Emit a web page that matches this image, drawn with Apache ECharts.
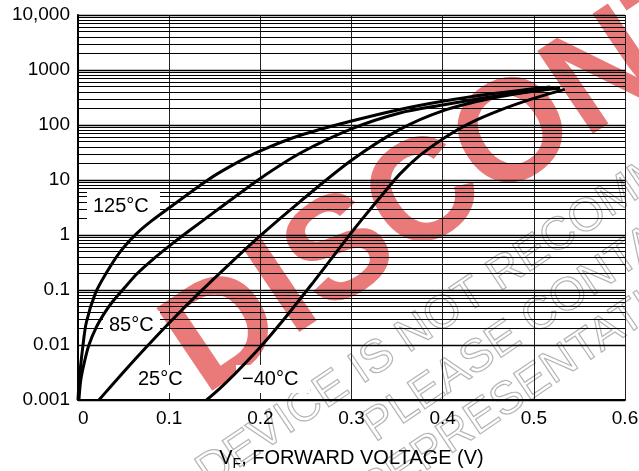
<!DOCTYPE html>
<html><head><meta charset="utf-8">
<script src="https://cdn.jsdelivr.net/npm/echarts@6/dist/echarts.min.js"></script>
<style>html,body{margin:0;padding:0;background:#fff}#c{width:639px;height:471px}</style>
</head><body><div id="c"></div>
<script>
// ---- data ----
const curveNames = ['125°C', '85°C', '25°C', '−40°C'];
const vf125 = [0, 0.001, 0.003, 0.005, 0.009, 0.019, 0.031, 0.046, 0.064, 0.081, 0.101, 0.142, 0.167, 0.2, 0.244, 0.3, 0.353, 0.4, 0.452, 0.499, 0.518];
const if125 = [0.001, 0.0019, 0.00437, 0.0085, 0.0251, 0.087, 0.204, 0.49, 1.05, 1.82, 3.2, 9.93, 17.7, 33.7, 65, 118, 192, 271, 366, 454, 493];
const vf85 = [0.001, 0.003, 0.007, 0.012, 0.02, 0.029, 0.038, 0.051, 0.065, 0.081, 0.101, 0.123, 0.142, 0.167, 0.2, 0.244, 0.3, 0.353, 0.4, 0.452, 0.499, 0.523];
const if85 = [0.001, 0.00229, 0.0049, 0.01, 0.0209, 0.038, 0.0617, 0.11, 0.2, 0.347, 0.646, 1.23, 2.11, 4.27, 10.7, 30.9, 85, 165, 231, 323, 415, 471];
const vf25 = [0.023, 0.035, 0.052, 0.074, 0.1, 0.134, 0.167, 0.2, 0.244, 0.3, 0.353, 0.4, 0.452, 0.499, 0.529];
const if25 = [0.001, 0.00169, 0.00352, 0.00883, 0.0252, 0.0923, 0.306, 0.973, 4.1, 22.8, 83.2, 181, 303, 411, 466];
const vfm40 = [0.141, 0.156, 0.172, 0.2, 0.227, 0.258, 0.282, 0.3, 0.313, 0.331, 0.353, 0.375, 0.4, 0.43, 0.463, 0.499, 0.534];
const ifm40 = [0.001, 0.00165, 0.00297, 0.00918, 0.0309, 0.138, 0.454, 1.11, 2.07, 4.75, 12.8, 28, 55.8, 108, 186, 301, 444];

const xTickLabels = ['0', '0.1', '0.2', '0.3', '0.4', '0.5', '0.6'];
const yTickValues = [0.001, 0.01, 0.1, 1, 10, 100, 1000, 10000];
const yTickLabels = ['0.001', '0.01', '0.1', '1', '10', '100', '1000', '10,000'];
const minorMantissas = [2, 3, 4, 5, 6, 7, 8, 9];
const minorDecades = [0.001, 0.01, 0.1, 1, 10, 100, 1000];

// ---- build ----
function pairs(xs, ys) { return xs.map((x, i) => [x, ys[i]]); }
const curves = [pairs(vf125, if125), pairs(vf85, if85), pairs(vf25, if25), pairs(vfm40, ifm40)];

const minorLines = [];
minorDecades.forEach(d => minorMantissas.forEach(m => minorLines.push({ yAxis: +(m * d).toPrecision(3) })));

const chart = echarts.init(document.getElementById('c'), null, { renderer: 'canvas' });
const FONT = 'Liberation Sans, Arial, Helvetica, sans-serif';
const deg = Math.PI / 180;
const wmAngle = 34 * deg;
const wmSmall = { fill: 'none', stroke: '#b5b5b5', lineWidth: 1.2, font: '46px ' + FONT, verticalAlign: 'middle', align: 'left' };

const option = {
  animation: false,
  backgroundColor: '#fff',
  grid: { left: 78, right: 14, top: 15, bottom: 71, containLabel: false, outerBoundsMode: 'none' },
  xAxis: {
    type: 'value', min: 0, max: 0.6, interval: 0.1,
    axisLine: { show: true, onZero: false, lineStyle: { color: '#000', width: 2 } },
    axisTick: { show: false },
    splitLine: { show: true, lineStyle: { color: '#222', width: 1 } },
    axisLabel: {
      color: '#000', fontSize: 19, fontFamily: FONT, margin: 9, alignMinLabel: 'left',
      formatter: (v) => xTickLabels[Math.round(v * 10)]
    },
    name: '{m|V}{s|F}{m|, FORWARD VOLTAGE (V)}',
    nameLocation: 'middle', nameGap: 45,
    nameTextStyle: {
      color: '#000', fontFamily: FONT, fontSize: 20,
      rich: {
        m: { fontSize: 20, fontFamily: FONT, color: '#000' },
        s: { fontSize: 14, fontFamily: FONT, color: '#000', padding: [12, 0, 0, 0] }
      }
    }
  },
  yAxis: {
    type: 'log', logBase: 10, min: 0.001, max: 10000, splitNumber: 7,
    axisLine: { show: true, lineStyle: { color: '#000', width: 2 } },
    axisTick: { show: false },
    splitLine: { show: true, lineStyle: { color: '#000', width: 1.3 } },
    axisLabel: {
      color: '#000', fontSize: 19, fontFamily: FONT, margin: 8,
      formatter: (v) => {
        const k = yTickValues.findIndex(t => Math.abs(Math.log10(t) - Math.log10(v)) < 1e-6);
        return k >= 0 ? yTickLabels[k] : '';
      }
    },
    name: '{m|I}{s|F}{m|, FORWARD CURRENT (mA)}',
    nameLocation: 'middle', nameGap: 54,
    nameTextStyle: {
      color: '#000', fontFamily: FONT, fontSize: 20,
      rich: {
        m: { fontSize: 20, fontFamily: FONT, color: '#000' },
        s: { fontSize: 14, fontFamily: FONT, color: '#000', padding: [12, 0, 0, 0] }
      }
    }
  },
  graphic: [
    // watermark (behind grid)
    { type: 'text', z: -10, x: 182, y: 363, rotation: wmAngle, silent: true,
      style: { text: 'DISCONTINUED', fill: '#ea7a7a', font: 'bold 145px ' + FONT, verticalAlign: 'middle', align: 'left' } },
    { type: 'text', z: -9, x: 202, y: 477, rotation: wmAngle, silent: true,
      style: Object.assign({ text: 'DEVICE IS NOT RECOMMENDED FOR NEW DESIGN' }, wmSmall) },
    { type: 'text', z: -9, x: 368, y: 432, rotation: wmAngle, silent: true,
      style: Object.assign({ text: 'PLEASE CONTACT YOUR ON SEMICONDUCTOR' }, wmSmall) },
    { type: 'text', z: -9, x: 364, y: 497, rotation: wmAngle, silent: true,
      style: Object.assign({ text: 'REPRESENTATIVE FOR INFORMATION' }, wmSmall) },
    // curve labels with white boxes
    { type: 'rect', z: 40, shape: { x: 87, y: 192, width: 73, height: 27 }, style: { fill: '#fff' } },
    { type: 'text', z: 41, x: 93, y: 206, style: { text: curveNames[0], font: '20px ' + FONT, fill: '#000', verticalAlign: 'middle' } },
    { type: 'rect', z: 40, shape: { x: 103, y: 311, width: 57, height: 27 }, style: { fill: '#fff' } },
    { type: 'text', z: 41, x: 109, y: 325, style: { text: curveNames[1], font: '20px ' + FONT, fill: '#000', verticalAlign: 'middle' } },
    { type: 'rect', z: 40, shape: { x: 130, y: 365, width: 60, height: 28 }, style: { fill: '#fff' } },
    { type: 'text', z: 41, x: 138, y: 379, style: { text: curveNames[2], font: '20px ' + FONT, fill: '#000', verticalAlign: 'middle' } },
    { type: 'rect', z: 40, shape: { x: 236, y: 365, width: 74, height: 28 }, style: { fill: '#fff' } },
    { type: 'text', z: 41, x: 242, y: 379, style: { text: curveNames[3], font: '20px ' + FONT, fill: '#000', verticalAlign: 'middle' } }
  ],
  series: [
    {
      type: 'line', name: 'grid', data: [], z: 1, silent: true,
      markLine: {
        silent: true, symbol: ['none', 'none'], label: { show: false },
        lineStyle: { color: '#000', width: 1, type: 'solid' },
        data: minorLines
      }
    }
  ].concat(curves.map((d, i) => ({
    type: 'line', name: curveNames[i], data: d, z: 50,
    showSymbol: false, symbol: 'none', smooth: 0.3,
    lineStyle: { color: '#000', width: 3 }
  })))
};
chart.setOption(option);
</script>
</body></html>
